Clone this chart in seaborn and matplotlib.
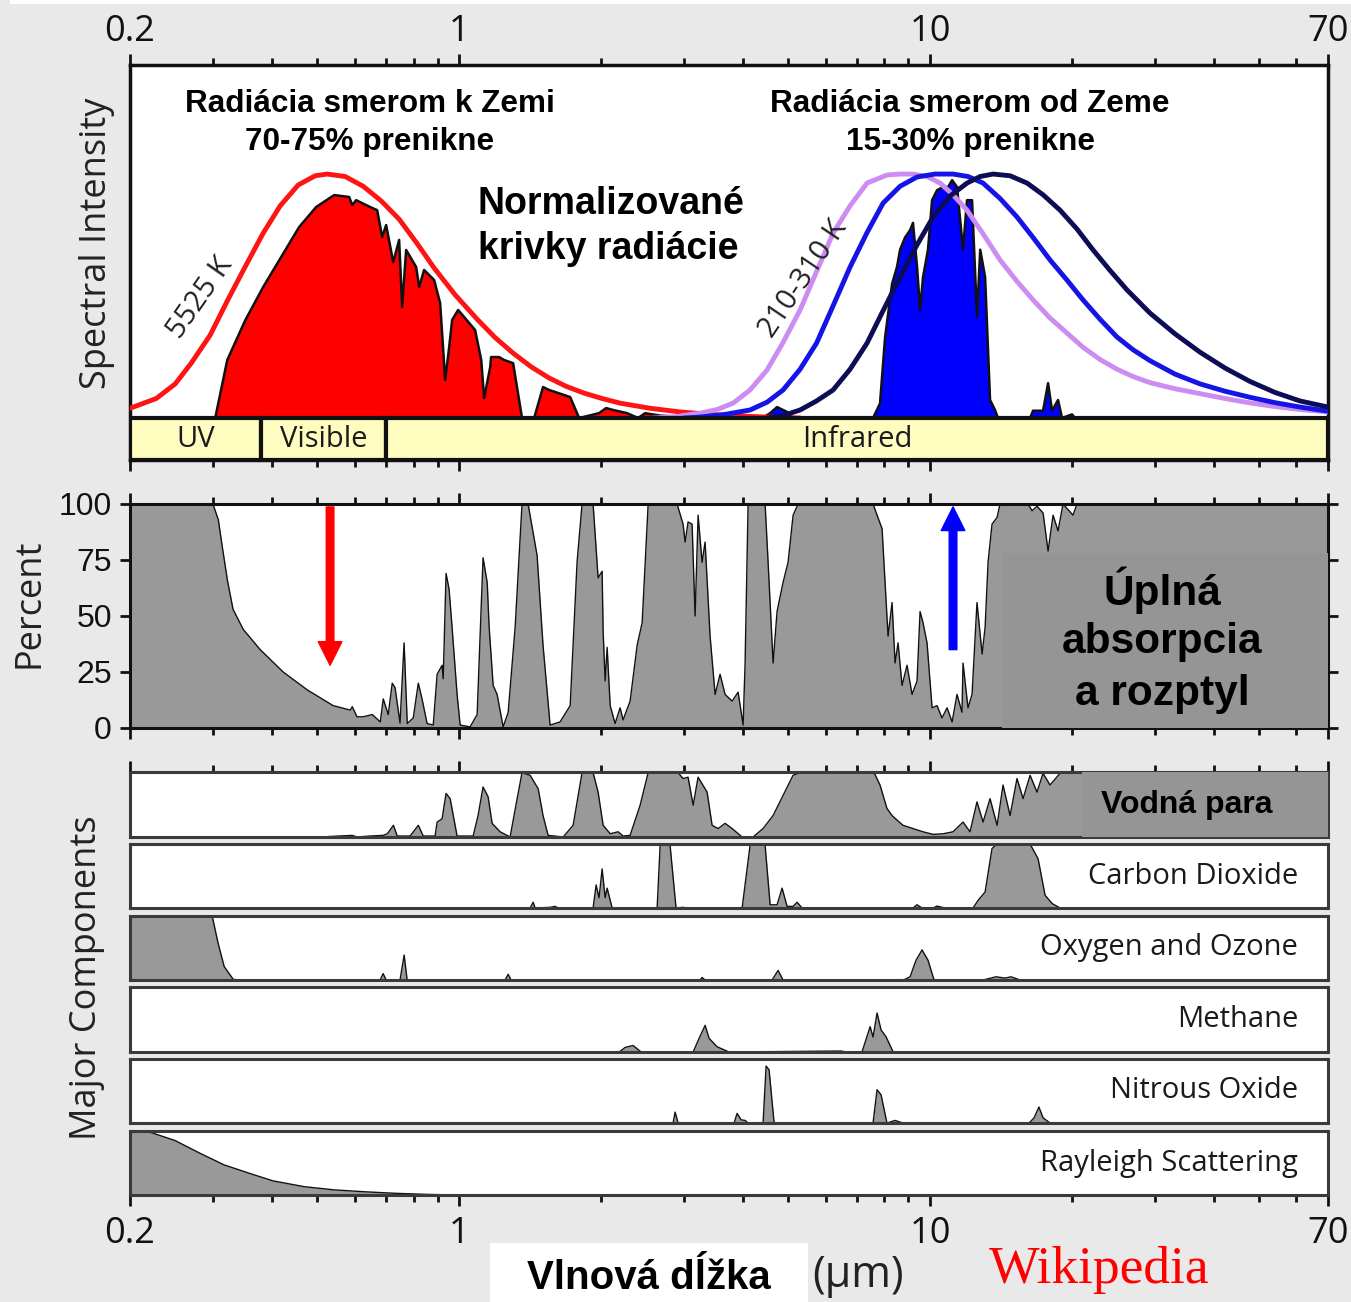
import math
import matplotlib
matplotlib.use('Agg')
import matplotlib.pyplot as plt
import seaborn as sns
import pandas as pd
from matplotlib.patches import Rectangle
from matplotlib.ticker import FixedLocator, FixedFormatter, NullFormatter

# ---------------- data (wavelength in micrometres) ----------------
tick_values = [0.2, 1, 10, 70]
tick_labels = ['0.2', '1', '10', '70']
minor_ticks = [0.3, 0.4, 0.5, 0.6, 0.7, 0.8, 0.9, 2, 3, 4, 5, 6, 7, 8, 9, 20, 30, 40, 50, 60]
pct_ticks = [0, 25, 50, 75, 100]

bands = ['UV', 'Visible', 'Infrared']
band_edges = [0.2, 0.38, 0.70, 70]

# normalized intensities
planck_5525 = [(0.2, 0.04), (0.2274, 0.08), (0.2495, 0.14), (0.2698, 0.225), (0.296, 0.34), (0.3218, 0.48),
               (0.3512, 0.62), (0.3836, 0.758), (0.4169, 0.87), (0.4551, 0.955), (0.4946, 0.993), (0.5244, 1.0),
               (0.5728, 0.99), (0.6254, 0.95), (0.683, 0.89), (0.7457, 0.815), (0.8144, 0.715), (0.8849, 0.615),
               (0.9806, 0.505), (1.092, 0.405), (1.192, 0.33), (1.302, 0.266), (1.422, 0.21), (1.553, 0.164),
               (1.687, 0.13), (1.843, 0.102), (2.012, 0.08), (2.197, 0.061), (2.544, 0.04), (2.945, 0.025),
               (3.582, 0.012), (4.36, 0.005), (5.30, 0.0)]

solar_ground = [(0.2, 0), (0.3034, 0), (0.3218, 0.238), (0.3512, 0.40), (0.3836, 0.537), (0.4188, 0.66),
                (0.4574, 0.783), (0.497, 0.865), (0.5429, 0.914), (0.5841, 0.906), (0.5926, 0.873), (0.6043, 0.893),
                (0.6471, 0.865), (0.6697, 0.852), (0.6863, 0.742), (0.6998, 0.791), (0.7245, 0.639), (0.7457, 0.73),
                (0.7568, 0.455), (0.7717, 0.689), (0.8104, 0.619), (0.8224, 0.537), (0.8424, 0.607), (0.8849, 0.566),
                (0.9113, 0.471), (0.9339, 0.156), (0.9524, 0.291), (0.9663, 0.402), (0.9951, 0.443), (1.081, 0.361),
                (1.114, 0.238), (1.130, 0.082), (1.164, 0.209), (1.169, 0.25), (1.216, 0.25), (1.246, 0.238),
                (1.302, 0.225), (1.360, 0), (1.443, 0), (1.507, 0.127), (1.553, 0.115), (1.721, 0.086), (1.798, 0),
                (1.982, 0.02), (2.052, 0.041), (2.123, 0.033), (2.274, 0.02), (2.399, 0), (2.483, 0.02),
                (2.672, 0.01), (3.25, 0)]

planck_210 = [(2.58, 0), (2.89, 0.006), (3.249, 0.02), (3.53, 0.035), (3.817, 0.061), (4.148, 0.115),
              (4.507, 0.197), (4.874, 0.31), (5.297, 0.443), (5.741, 0.60), (6.225, 0.758), (6.764, 0.87),
              (7.348, 0.963), (8.10, 0.996), (8.637, 1.0), (9.20, 1.0), (9.854, 0.99), (10.5, 0.963),
              (11.19, 0.915), (11.98, 0.852), (12.96, 0.755), (14.08, 0.648), (15.3, 0.56), (16.55, 0.484),
              (17.98, 0.41), (19.54, 0.348), (21.13, 0.29), (22.96, 0.24), (24.95, 0.2), (26.98, 0.17),
              (29.32, 0.145), (33.13, 0.12), (37.43, 0.1), (42.3, 0.08), (47.8, 0.062), (54.0, 0.047),
              (61.04, 0.035), (70, 0.025)]
planck_260 = [(3.0, 0.0), (3.249, 0.004), (3.671, 0.015), (4.148, 0.033), (4.507, 0.065), (4.874, 0.115),
              (5.297, 0.2), (5.741, 0.307), (6.225, 0.46), (6.764, 0.619), (7.348, 0.76), (7.949, 0.881),
              (8.637, 0.95), (9.384, 0.988), (10.25, 1.0), (11.19, 1.0), (12.04, 0.99), (12.96, 0.963),
              (14.08, 0.9), (15.3, 0.824), (16.55, 0.74), (17.98, 0.648), (19.54, 0.565), (21.13, 0.484),
              (22.96, 0.405), (24.95, 0.332), (26.98, 0.28), (29.32, 0.235), (33.13, 0.18), (37.43, 0.14),
              (42.3, 0.11), (47.8, 0.085), (54.0, 0.063), (61.04, 0.045), (70, 0.028)]
planck_310 = [(4.507, 0), (4.874, 0.01), (5.297, 0.033), (5.741, 0.07), (6.225, 0.115), (6.764, 0.2),
              (7.348, 0.307), (7.949, 0.44), (8.637, 0.578), (9.384, 0.71), (10.15, 0.824), (11.03, 0.91),
              (11.98, 0.963), (12.78, 0.99), (13.61, 1.0), (14.79, 0.993), (16.07, 0.963), (17.38, 0.915),
              (18.88, 0.852), (20.51, 0.775), (22.19, 0.689), (24.11, 0.605), (26.2, 0.525), (29.32, 0.43),
              (33.13, 0.345), (37.43, 0.27), (42.3, 0.205), (47.8, 0.15), (54.0, 0.105), (61.04, 0.07),
              (70, 0.045)]

earth_escape = [(4.4, 0), (4.575, 0.02), (4.733, 0.045), (4.971, 0.025), (5.119, 0), (7.568, 0), (7.83, 0.06),
                (8.025, 0.33), (8.305, 0.55), (8.51, 0.62), (8.637, 0.69), (8.849, 0.74), (9.07, 0.77), (9.20, 0.80),
                (9.384, 0.62), (9.524, 0.443), (9.663, 0.578), (9.90, 0.69), (10.10, 0.893), (10.35, 0.934),
                (10.66, 0.947), (10.92, 0.947), (11.14, 0.975), (11.41, 0.947), (11.75, 0.69), (11.98, 0.893),
                (12.28, 0.893), (12.58, 0.414), (12.78, 0.69), (13.09, 0.578), (13.41, 0.074), (13.74, 0.033),
                (13.94, 0), (16.31, 0), (16.55, 0.03), (17.38, 0.03), (17.81, 0.143), (18.16, 0.03), (18.70, 0.074),
                (19.07, 0), (20.02, 0.015), (20.32, 0)]

# percent absorption
total_absorption = [(0.2, 100), (0.300, 100), (0.308, 93), (0.314, 81), (0.322, 66), (0.331, 53), (0.348, 44),
                    (0.378, 35), (0.423, 25), (0.476, 17), (0.540, 10), (0.587, 8), (0.593, 9.5), (0.607, 5),
                    (0.625, 5), (0.654, 6), (0.680, 2.7), (0.690, 13), (0.707, 6), (0.721, 20), (0.731, 18),
                    (0.749, 2.2), (0.764, 38), (0.776, 2), (0.799, 4.5), (0.819, 20), (0.834, 13), (0.855, 2),
                    (0.881, 1.3), (0.898, 24), (0.920, 28), (0.925, 22), (0.938, 69), (0.952, 62), (0.966, 45),
                    (0.990, 15), (1.005, 1.3), (1.055, 0.5), (1.092, 6), (1.124, 76), (1.147, 65), (1.158, 45),
                    (1.181, 19), (1.204, 15), (1.240, 0.5), (1.271, 7), (1.315, 45), (1.360, 100), (1.401, 100),
                    (1.464, 77), (1.507, 37), (1.560, 1.3), (1.638, 2.7), (1.721, 10), (1.780, 74), (1.824, 100),
                    (1.925, 100), (1.973, 67), (2.012, 70), (2.022, 43), (2.042, 21), (2.062, 36), (2.093, 10),
                    (2.144, 2), (2.197, 9), (2.229, 3.6), (2.307, 12), (2.388, 37), (2.447, 47), (2.520, 100),
                    (2.903, 100), (2.989, 91), (3.019, 83), (3.063, 92), (3.124, 91), (3.170, 50), (3.217, 95),
                    (3.280, 74), (3.329, 83), (3.411, 41), (3.496, 15), (3.582, 24), (3.671, 15), (3.799, 12),
                    (3.912, 16), (4.009, 1.3), (4.048, 29), (4.108, 100), (4.464, 100), (4.530, 74), (4.642, 29),
                    (4.733, 52), (4.874, 65), (4.995, 74), (5.119, 95), (5.246, 100), (7.568, 100), (7.718, 95),
                    (7.909, 89), (8.144, 41), (8.305, 56), (8.428, 29), (8.552, 38), (8.721, 19), (8.937, 28),
                    (9.158, 15), (9.384, 21), (9.524, 52), (9.663, 47), (9.854, 38), (10.10, 9), (10.35, 10),
                    (10.60, 4.5), (10.87, 9), (11.14, 2.7), (11.41, 15), (11.69, 7), (11.75, 29), (12.04, 9),
                    (12.28, 15), (12.58, 56), (12.90, 33), (13.09, 45), (13.28, 74), (13.54, 91), (13.88, 94),
                    (14.08, 100), (16.15, 100), (16.47, 97), (16.87, 99), (17.38, 96), (17.81, 79), (18.25, 95),
                    (18.70, 88), (19.16, 100), (20.12, 95), (20.51, 100), (70, 100)]

water_vapor = [(0.2, 0), (0.507, 0), (0.593, 2.5), (0.607, 0), (0.647, 1.5), (0.690, 2.5), (0.704, 5), (0.725, 18),
               (0.739, 1.5), (0.787, 1.5), (0.819, 18), (0.839, 1.5), (0.889, 1.5), (0.898, 23), (0.920, 28),
               (0.938, 67), (0.957, 59), (0.990, 1.5), (1.071, 1.5), (1.097, 33), (1.124, 77), (1.152, 62),
               (1.175, 21), (1.222, 8), (1.283, 0), (1.328, 59), (1.360, 99), (1.415, 95), (1.472, 74), (1.507, 33),
               (1.545, 2.5), (1.663, 0), (1.746, 18), (1.824, 99), (1.925, 99), (1.973, 69), (2.022, 18),
               (2.093, 5), (2.176, 8), (2.229, 1.5), (2.307, 2.5), (2.423, 49), (2.520, 99), (2.917, 99),
               (2.989, 90), (3.063, 92), (3.140, 49), (3.217, 92), (3.362, 69), (3.445, 18), (3.548, 13),
               (3.671, 21), (3.799, 13), (3.990, 0), (4.209, 0), (4.42, 13), (4.642, 33), (4.874, 64), (5.119, 95),
               (5.297, 99), (7.568, 99), (7.642, 96), (7.83, 80), (8.10, 44), (8.305, 33), (8.51, 26), (8.76, 18),
               (9.20, 13), (9.663, 8), (10.15, 4), (10.66, 5), (11.19, 8), (11.75, 23), (12.16, 8), (12.58, 54),
               (12.96, 23), (13.41, 59), (13.88, 18), (14.29, 80), (14.79, 33), (15.30, 90), (15.76, 59),
               (16.31, 95), (16.87, 69), (17.38, 98), (17.98, 80), (18.88, 98), (19.82, 100), (70, 100)]

carbon_dioxide = [(0.2, 0), (1.415, 0), (1.436, 9), (1.450, 0), (1.560, 1), (1.599, 2.5), (1.623, 0), (1.925, 0),
                  (1.954, 36), (1.982, 16), (2.012, 61), (2.042, 16), (2.062, 31), (2.113, 0), (2.633, 0),
                  (2.672, 98), (2.805, 98), (2.888, 0), (2.989, 1), (3.05, 0), (3.990, 0), (4.148, 98), (4.464, 98),
                  (4.575, 5), (4.733, 5), (4.851, 31), (4.971, 2.5), (5.119, 2.5), (5.220, 9), (5.349, 0),
                  (9.20, 0), (9.384, 5), (9.616, 0), (10.15, 0), (10.35, 3), (10.76, 0), (12.34, 0), (12.65, 12),
                  (13.09, 25), (13.54, 93), (13.88, 100), (16.31, 100), (16.96, 77), (17.55, 20), (18.16, 7),
                  (18.88, 0), (70, 0)]

oxygen_ozone = [(0.2, 100), (0.2989, 100), (0.3078, 57), (0.317, 21), (0.3313, 1), (0.3411, 0), (0.6796, 0),
                (0.6896, 10), (0.6998, 0), (0.749, 0), (0.7642, 39), (0.7755, 0), (1.252, 0), (1.271, 9),
                (1.289, 0), (3.249, 0), (3.28, 4), (3.329, 0), (4.62, 0), (4.757, 15), (4.874, 0), (8.679, 0),
                (8.85, 1), (9.07, 5), (9.34, 31), (9.616, 47), (9.90, 31), (10.20, 0), (12.96, 0), (13.81, 5),
                (14.43, 3), (14.86, 5), (15.53, 0), (70, 0)]

methane = [(0.2, 0), (2.187, 0), (2.252, 7), (2.341, 10), (2.435, 0), (3.140, 0), (3.233, 21), (3.329, 41),
           (3.395, 21), (3.530, 8), (3.743, 0), (6.47, 1.5), (6.63, 0), (7.17, 0), (7.46, 39), (7.568, 23),
           (7.718, 60), (7.87, 34), (8.07, 23), (8.35, 0), (70, 0)]

nitrous_oxide = [(0.2, 0), (2.847, 0), (2.875, 17), (2.917, 0), (3.836, 0), (3.893, 15), (3.970, 5), (4.048, 4),
                 (4.108, 0), (4.42, 0), (4.486, 89), (4.552, 83), (4.665, 0), (7.568, 0), (7.718, 52), (7.87, 44),
                 (8.10, 0), (8.428, 4), (8.76, 0), (16.23, 0), (16.63, 8), (17.03, 25), (17.38, 8), (17.98, 0),
                 (70, 0)]

rayleigh = [(0.2, 100), (0.2105, 99.5), (0.2219, 97.5), (0.2495, 85), (0.282, 65), (0.317, 47), (0.3581, 34),
            (0.4029, 22), (0.4688, 13), (0.5429, 8), (0.6316, 5), (0.7348, 2.6), (0.851, 1), (0.976, 0), (70, 0)]

components = [('Vodná para', water_vapor), ('Carbon Dioxide', carbon_dioxide), ('Oxygen and Ozone', oxygen_ozone),
              ('Methane', methane), ('Nitrous Oxide', nitrous_oxide), ('Rayleigh Scattering', rayleigh)]

# ---------------- figure ----------------
sns.set_theme(style='white')
plt.rcParams['font.family'] = ['Open Sans', 'DejaVu Sans']
W, H = 1351, 1302
BG = '#e9e9e9'
GRAY = '#999999'
fig = plt.figure(figsize=(W / 100, H / 100), dpi=100, facecolor=BG)


def px_axes(x0, y0, x1, y1):
    return fig.add_axes([x0 / W, 1 - y1 / H, (x1 - x0) / W, (y1 - y0) / H])


def ftext(x, y, s, **kw):
    return fig.text(x / W, 1 - y / H, s, **kw)


def df_of(pts):
    return pd.DataFrame(pts, columns=['wl', 'v'])


def setup_x(ax, top=False, bottom=False, ltop=False, lbottom=False, pad=3):
    ax.set_xscale('log')
    ax.set_xlim(0.2, 70)
    ax.xaxis.set_major_locator(FixedLocator(tick_values))
    ax.xaxis.set_major_formatter(FixedFormatter(tick_labels))
    ax.xaxis.set_minor_locator(FixedLocator(minor_ticks))
    ax.xaxis.set_minor_formatter(NullFormatter())
    ax.tick_params(axis='x', which='both', top=top, bottom=bottom, labeltop=ltop, labelbottom=lbottom,
                   direction='out', colors='#111111', width=2)
    ax.tick_params(axis='x', which='major', length=8, labelsize=26, pad=pad)
    ax.tick_params(axis='x', which='minor', length=5)
    ax.set_xlabel('')
    ax.set_ylabel('')


def frame(ax, color='#111111', lw=2.2):
    for s in ax.spines.values():
        s.set_visible(True)
        s.set_color(color)
        s.set_linewidth(lw)


def line(ax, pts, color, lw, z=3):
    d = df_of(pts)
    sns.lineplot(data=d, x='wl', y='v', ax=ax, color=color, lw=lw, estimator=None, sort=False, zorder=z,
                 legend=False)


def area(ax, pts, color, edge='#111111', lw=1.0, z=2):
    d = df_of(pts)
    ax.fill_between(d['wl'], 0, d['v'], color=color, lw=0, zorder=z)
    line(ax, pts, edge, lw, z=z + 0.1)


# white strip at the very top of the image
fig.patches.append(Rectangle((10 / W, 1 - 4 / H), 1, 4 / H, transform=fig.transFigure,
                             facecolor='white', edgecolor='none', zorder=0))

# ---------- top panel: spectral intensity ----------
ax1 = px_axes(130, 65, 1328, 460)
ax1.set_facecolor('white')
ylo, yhi = -0.172, 1.447
area(ax1, solar_ground, '#ff0000', lw=1.8, z=2)
area(ax1, earth_escape, '#0000ff', lw=1.8, z=2)
line(ax1, planck_5525, '#ff1414', 3.5, z=4)
line(ax1, planck_210, '#cc8cf2', 3.5, z=4)
line(ax1, planck_260, '#1414e6', 3.5, z=4)
line(ax1, planck_310, '#0d0d55', 3.5, z=4)
ax1.set_ylim(ylo, yhi)
ax1.set_yticks([])
setup_x(ax1, top=True, bottom=True, ltop=True)
frame(ax1, lw=2.5)
for i, name in enumerate(bands):
    x0, x1 = band_edges[i], band_edges[i + 1]
    ax1.add_patch(Rectangle((x0, ylo), x1 - x0, -ylo, facecolor='#fffcc0', edgecolor='#111111', lw=3, zorder=5))
    xm = 10 ** ((math.log10(x0) + math.log10(x1)) / 2)
    ax1.text(xm, ylo / 2, name, ha='center', va='center', fontsize=21, color='#1a1a1a', zorder=6)

ftext(97, 243, 'Spectral Intensity', rotation=90, ha='center', va='center', fontsize=26, color='#222222')
bold = dict(family=['Liberation Sans', 'DejaVu Sans'], weight='bold', color='black')
ftext(370, 104, 'Radiácia smerom k Zemi', ha='center', va='center', fontsize=22.7, **bold)
ftext(370, 142, '70-75% prenikne', ha='center', va='center', fontsize=22.7, **bold)
ftext(970, 104, 'Radiácia smerom od Zeme', ha='center', va='center', fontsize=22.7, **bold)
ftext(970, 142, '15-30% prenikne', ha='center', va='center', fontsize=22.7, **bold)
ftext(478, 204, 'Normalizované', ha='left', va='center', fontsize=27, **bold)
ftext(478, 249, 'krivky radiácie', ha='left', va='center', fontsize=27, **bold)
ftext(200, 298, '5525 K', rotation=55, ha='center', va='center', fontsize=21, color='#222222')
ftext(803, 279, '210-310 K', rotation=56, ha='center', va='center', fontsize=21, color='#222222')

# ---------- percent panel ----------
ax2 = px_axes(130, 504, 1328, 728)
ax2.set_facecolor('white')
area(ax2, total_absorption, GRAY, lw=1.0)
ax2.add_patch(Rectangle((14.22, 0), 70 - 14.22, 78, facecolor='#959595', lw=0, zorder=3))
ax2.set_ylim(0, 100)
setup_x(ax2, top=True, bottom=True)
ax2.yaxis.set_major_locator(FixedLocator(pct_ticks))
ax2.tick_params(axis='y', left=True, right=True, direction='out', length=7, width=2, labelsize=23,
                colors='#111111', pad=6)
for lab in ax2.get_yticklabels():
    lab.set_family(['Liberation Sans', 'DejaVu Sans'])
frame(ax2, lw=2.2)
ax2.annotate('', xy=(0.532, 28), xytext=(0.532, 98.7),
             arrowprops=dict(arrowstyle='simple,head_width=1.7,head_length=1.7,tail_width=0.55',
                             color='#ff0000', mutation_scale=10, shrinkA=0, shrinkB=0), zorder=6)
ax2.annotate('', xy=(11.19, 98.7), xytext=(11.19, 35),
             arrowprops=dict(arrowstyle='simple,head_width=1.7,head_length=1.7,tail_width=0.55',
                             color='#0000ff', mutation_scale=10, shrinkA=0, shrinkB=0), zorder=6)
ftext(30, 603, 'Percent', rotation=90, ha='center', va='center', fontsize=26, color='#222222')
ftext(1162, 590, 'Úplná', ha='center', va='center', fontsize=30.5, **bold)
ftext(1162, 642, 'absorpcia', ha='center', va='center', fontsize=30.5, **bold)
ftext(1162, 694, 'a rozptyl', ha='center', va='center', fontsize=30.5, **bold)

# ---------- component panels ----------
panel_y = [(772, 837), (844, 908), (916, 980), (987, 1052), (1059, 1123), (1131, 1195)]
for i, ((name, pts), (y0, y1)) in enumerate(zip(components, panel_y)):
    ax = px_axes(130, y0, 1328, y1)
    ax.set_facecolor('white')
    area(ax, pts, GRAY, lw=1.0)
    ax.set_ylim(0, 100)
    ax.set_yticks([])
    first, last = i == 0, i == len(components) - 1
    setup_x(ax, top=first, bottom=last, lbottom=last, pad=7 if last else 3)
    frame(ax, color='#3a3a3a', lw=2.2)
    if i == 0:
        ax.add_patch(Rectangle((21.0, 0), 49, 100, facecolor='#959595', lw=0, zorder=3))
        ax.text(35.1, 50, name, ha='center', va='center', fontsize=23, zorder=5, **bold)
    else:
        ax.text(0.975, 0.5, name, transform=ax.transAxes, ha='right', va='center', fontsize=21,
                color='#1a1a1a', zorder=5)

ftext(87, 978, 'Major Components', rotation=90, ha='center', va='center', fontsize=26, color='#222222')

# ---------- bottom labels ----------
fig.patches.append(Rectangle((490 / W, 0), (808 - 490) / W, (1302 - 1243) / H, transform=fig.transFigure,
                             facecolor='white', edgecolor='none', zorder=0))
ftext(649, 1278, 'Vlnová dĺžka', ha='center', va='center', fontsize=29, **bold)
ftext(858, 1276, '(µm)', ha='center', va='center', fontsize=31, color='#222222')
ftext(1099, 1270, 'Wikipedia', ha='center', va='center', fontsize=38.5, color='#ff0000',
      family=['Liberation Serif', 'DejaVu Serif'])

fig.savefig('out.png', dpi=100, facecolor=BG)
